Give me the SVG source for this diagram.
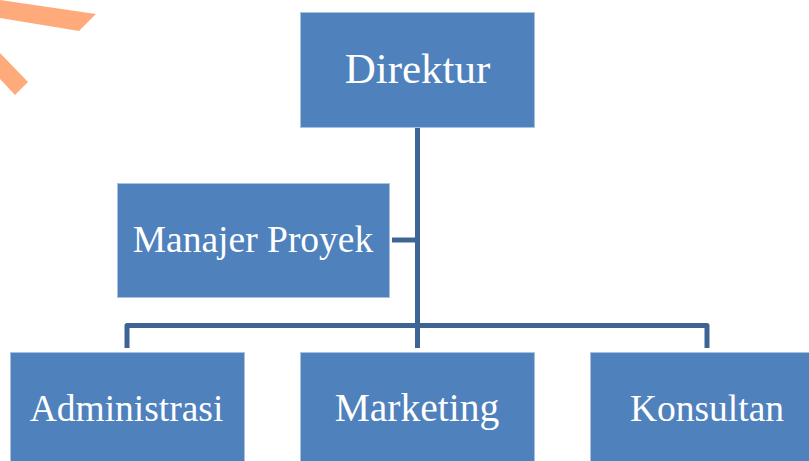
<svg xmlns="http://www.w3.org/2000/svg" width="809" height="461" viewBox="0 0 809 461">
<style>
.box{fill:#4F81BD;stroke:#A9C0DE;stroke-width:1}
.lbl{font-family:"Liberation Serif","Times New Roman",serif;fill:#FFFFFF;text-anchor:middle}
.conn{fill:none;stroke:#3D6494;stroke-width:5;stroke-linejoin:round}
.deco{fill:#FFAA7A}
</style>
<rect width="809" height="461" fill="#FFFFFF"/>
<g id="decoration">
<polygon class="deco" points="0,0 96,14 79,31 0,18"/>
<polygon class="deco" points="0,53 28,82 15,95 0,79"/>
</g>
<g id="connectors">
<path class="conn" d="M417.5,127 V348"/>
<path class="conn" d="M392,240 H417.5"/>
<path class="conn" d="M127,348 V325.5 H707 V348"/>
</g>
<g id="direktur">
<rect class="box" x="300.5" y="12.5" width="234" height="115"/>
<text class="lbl" x="417.5" y="83" font-size="43">Direktur</text>
</g>
<g id="manajer-proyek">
<rect class="box" x="117.5" y="183.5" width="272" height="114"/>
<text class="lbl" x="253" y="252" font-size="37.5">Manajer Proyek</text>
</g>
<g id="administrasi">
<rect class="box" x="10.5" y="352.5" width="234" height="115"/>
<text class="lbl" x="126.5" y="421" font-size="37.5">Administrasi</text>
</g>
<g id="marketing">
<rect class="box" x="300.5" y="352.5" width="234" height="115"/>
<text class="lbl" x="417" y="421" font-size="39.5">Marketing</text>
</g>
<g id="konsultan">
<rect class="box" x="590.5" y="352.5" width="234" height="115"/>
<text class="lbl" x="707" y="421" font-size="37.5">Konsultan</text>
</g>
</svg>
